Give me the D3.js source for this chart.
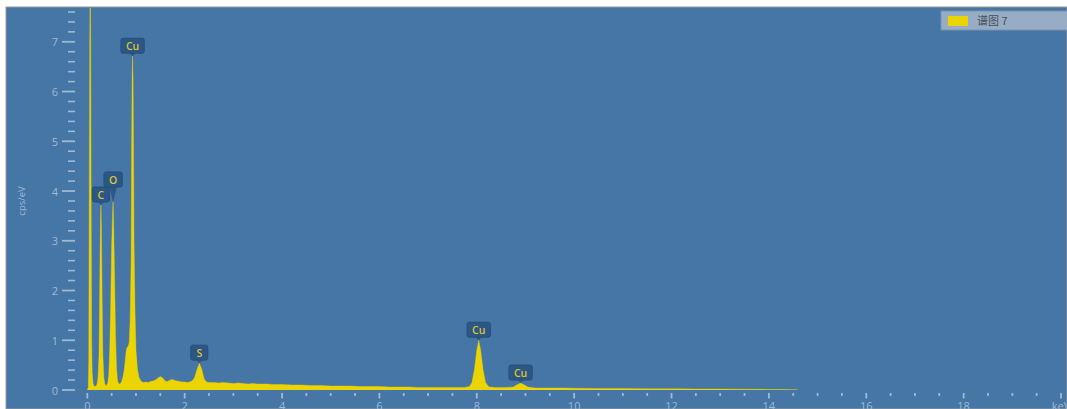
<!DOCTYPE html>
<html>
<head>
<meta charset="utf-8">
<script src="https://cdn.jsdelivr.net/npm/d3@7"></script>
<style>
  html, body { margin: 0; padding: 0; background: #ffffff; overflow: hidden; }
  svg { display: block; }
</style>
</head>
<body>
<svg id="chart" width="1067" height="409"></svg>
<script>
// EDS spectrum: energy (keV) vs intensity (cps/eV)
const spectrumKeV = [
  0.00, 0.02, 0.03, 0.04, 0.05, 0.06, 0.07, 0.08, 0.09, 0.10,
  0.12, 0.14, 0.16, 0.18, 0.20, 0.22, 0.24, 0.25, 0.26, 0.27,
  0.28, 0.29, 0.30, 0.31, 0.32, 0.34, 0.36, 0.38, 0.40, 0.42,
  0.44, 0.46, 0.48, 0.50, 0.52, 0.53, 0.54, 0.56, 0.58, 0.60,
  0.62, 0.64, 0.66, 0.68, 0.70, 0.72, 0.74, 0.76, 0.78, 0.80,
  0.82, 0.84, 0.86, 0.88, 0.90, 0.91, 0.92, 0.93, 0.94, 0.95,
  0.96, 0.98, 1.00, 1.03, 1.06, 1.10, 1.15, 1.20, 1.25, 1.30,
  1.35, 1.40, 1.45, 1.50, 1.55, 1.60, 1.65, 1.70, 1.75, 1.80,
  1.85, 1.90, 1.95, 2.00, 2.05, 2.10, 2.15, 2.20, 2.25, 2.30,
  2.35, 2.40, 2.45, 2.50, 2.60, 2.70, 2.80, 2.90, 3.00, 3.10,
  3.20, 3.30, 3.40, 3.50, 3.60, 3.70, 3.80, 3.90, 4.00, 4.20,
  4.40, 4.60, 4.80, 5.00, 5.20, 5.40, 5.60, 5.80, 6.00, 6.20,
  6.40, 6.60, 6.80, 7.00, 7.20, 7.40, 7.60, 7.75, 7.85, 7.90,
  7.95, 8.00, 8.04, 8.08, 8.13, 8.18, 8.25, 8.40, 8.60, 8.75,
  8.82, 8.90, 8.98, 9.05, 9.20, 9.40, 9.60, 9.80, 10.0, 10.5,
  11.0, 11.5, 12.0, 12.5, 13.0, 13.5, 14.0, 14.3, 14.5, 14.6
];
const spectrumCps = [
  0.00, 0.05, 0.60, 4.00, 7.00, 8.60, 7.00, 3.50, 1.00, 0.35,
  0.12, 0.08, 0.07, 0.08, 0.12, 0.25, 0.70, 1.50, 2.60, 3.40,
  3.72, 3.30, 2.40, 1.40, 0.70, 0.25, 0.12, 0.09, 0.10, 0.14,
  0.30, 0.80, 1.70, 2.90, 3.60, 3.78, 3.40, 2.30, 1.10, 0.45,
  0.20, 0.13, 0.12, 0.13, 0.16, 0.22, 0.30, 0.42, 0.60, 0.80,
  0.86, 0.88, 0.95, 1.40, 2.60, 4.80, 6.30, 6.71, 6.30, 4.90,
  3.00, 1.60, 0.80, 0.42, 0.26, 0.18, 0.15, 0.16, 0.15, 0.17,
  0.18, 0.20, 0.24, 0.27, 0.24, 0.18, 0.17, 0.20, 0.21, 0.19,
  0.18, 0.17, 0.16, 0.16, 0.15, 0.16, 0.18, 0.24, 0.40, 0.54,
  0.42, 0.22, 0.16, 0.15, 0.15, 0.14, 0.15, 0.14, 0.13, 0.14,
  0.13, 0.12, 0.13, 0.12, 0.12, 0.12, 0.11, 0.11, 0.11, 0.10,
  0.10, 0.09, 0.09, 0.08, 0.08, 0.08, 0.07, 0.07, 0.07, 0.06,
  0.06, 0.06, 0.05, 0.05, 0.05, 0.05, 0.05, 0.05, 0.07, 0.15,
  0.40, 0.80, 1.00, 0.80, 0.40, 0.15, 0.06, 0.05, 0.05, 0.06,
  0.10, 0.14, 0.10, 0.06, 0.04, 0.04, 0.04, 0.04, 0.035, 0.03,
  0.03, 0.025, 0.025, 0.02, 0.02, 0.016, 0.012, 0.008, 0.004, 0.00
];

// Peak identifications
const peakNames = ["C", "O", "Cu", "S", "Cu", "Cu"];
const peakKeV = [0.28, 0.53, 0.93, 2.30, 8.04, 8.90];

// Axis ticks
const xMajorTicks = [0, 2, 4, 6, 8, 10, 12, 14, 16, 18, 20];
const xTickLabels = ["0", "2", "4", "6", "8", "10", "12", "14", "16", "18", "keV"];
const yMajorTicks = [0, 1, 2, 3, 4, 5, 6, 7];
const yTickLabels = ["0", "1", "2", "3", "4", "5", "6", "7"];

const seriesName = "谱图 7";

const W = 1067, H = 409;
const svg = d3.select("#chart");

const panel = { x: 6, y: 7 };
const bg = "#4576a5";
const axisColor = "#a0b8d3";
const yellow = "#ecd400";
const font = "Open Sans, DejaVu Sans, sans-serif";

// panel background
svg.append("rect").attr("x", 0).attr("y", 0).attr("width", W).attr("height", H).attr("fill", "#ffffff");
svg.append("rect")
  .attr("x", panel.x).attr("y", panel.y)
  .attr("width", W - panel.x).attr("height", H - panel.y)
  .attr("fill", bg)
  .attr("stroke", "#9a9a9a").attr("stroke-width", 1);

svg.append("defs").append("clipPath").attr("id", "plotClip")
  .append("rect").attr("x", panel.x + 1).attr("y", panel.y + 1)
  .attr("width", W - panel.x).attr("height", 390 - panel.y - 1);

const x = d3.scaleLinear().domain([0, 20]).range([87.3, 1061]);
const y = d3.scaleLinear().domain([0, 7]).range([390, 41.8]);

// spectrum
const pts = spectrumKeV.map((e, i) => [e, spectrumCps[i]]);
const area = d3.area()
  .x(d => x(d[0]))
  .y0(y(0))
  .y1(d => y(d[1]))
  .curve(d3.curveLinear);

svg.append("g").attr("clip-path", "url(#plotClip)")
  .append("path")
  .datum(pts)
  .attr("d", area)
  .attr("fill", yellow)
  .attr("stroke", yellow)
  .attr("stroke-width", 0.4);

// y axis ticks
const gy = svg.append("g");
const yMinor = d3.range(0, 7.61, 0.2).filter(v => Math.abs(v - Math.round(v)) > 1e-6);
gy.selectAll("line.minor").data(yMinor).join("line")
  .attr("x1", 68).attr("x2", 75)
  .attr("y1", d => y(d)).attr("y2", d => y(d))
  .attr("stroke", axisColor).attr("stroke-width", 1.6);
gy.selectAll("line.major").data(yMajorTicks).join("line")
  .attr("x1", 62).attr("x2", 75)
  .attr("y1", d => y(d)).attr("y2", d => y(d))
  .attr("stroke", axisColor).attr("stroke-width", 1.8);
gy.selectAll("text").data(yMajorTicks).join("text")
  .attr("x", 58).attr("y", d => y(d))
  .attr("text-anchor", "end").attr("dominant-baseline", "central")
  .attr("font-family", font)
  .attr("font-size", 11).attr("fill", axisColor)
  .text((d, i) => yTickLabels[i]);

svg.append("text")
  .attr("transform", `translate(25,${y(3.8)}) rotate(-90)`)
  .attr("text-anchor", "middle")
  .attr("font-family", font)
  .attr("font-size", 9.5).attr("fill", axisColor)
  .text("cps/eV");

// x axis ticks
const gx = svg.append("g");
const xMinor = d3.range(0, 20.01, 0.5).filter(v => Math.abs(v / 2 - Math.round(v / 2)) > 1e-6);
gx.selectAll("line.minor").data(xMinor).join("line")
  .attr("x1", d => x(d)).attr("x2", d => x(d))
  .attr("y1", 393).attr("y2", 396)
  .attr("stroke", axisColor).attr("stroke-width", 1.8);
gx.selectAll("line.major").data(xMajorTicks).join("line")
  .attr("x1", d => x(d)).attr("x2", d => x(d))
  .attr("y1", 393).attr("y2", 398.5)
  .attr("stroke", axisColor).attr("stroke-width", 1.8);
gx.selectAll("text").data(xMajorTicks).join("text")
  .attr("x", d => x(d)).attr("y", 410)
  .attr("text-anchor", "middle")
  .attr("font-family", font)
  .attr("font-size", 11).attr("fill", axisColor)
  .text((d, i) => xTickLabels[i]);

// peak markers
function peakValue(e) {
  let best = 0, bd = Infinity;
  spectrumKeV.forEach((k, i) => {
    const d = Math.abs(k - e);
    if (d < bd - 1e-9 || (Math.abs(d - bd) < 1e-9 && spectrumCps[i] > spectrumCps[best])) { bd = d; best = i; }
  });
  return spectrumCps[best];
}

const gp = svg.append("g");
const boxH = 15;
const placed = [];
peakNames.forEach((name, i) => {
  const px = x(peakKeV[i]);
  const tipY = y(peakValue(peakKeV[i]));
  const tmp = gp.append("text")
    .attr("font-family", font).attr("font-weight", 600)
    .attr("font-size", 10.5).text(name);
  const tw = tmp.node().getComputedTextLength();
  tmp.remove();
  const bw = Math.max(17, tw + 10);
  let bx = px - bw / 2;
  let by = tipY - 3 - boxH;
  // lift a marker above any neighbour it would overlap
  placed.forEach(p => {
    const hOverlap = bx < p.x + p.w && bx + bw > p.x;
    const vOverlap = by < p.y + p.h && by + boxH > p.y;
    if (hOverlap && vOverlap) by = p.y - boxH;
  });
  placed.push({ x: bx, y: by, w: bw, h: boxH });

  const g = gp.append("g");
  g.append("path")
    .attr("d", `M${px - 4},${by + boxH - 1} L${px + 4},${by + boxH - 1} L${px},${tipY} Z`)
    .attr("fill", "#2b5582").attr("opacity", 0.92);
  g.append("rect")
    .attr("x", bx).attr("y", by).attr("width", bw).attr("height", boxH)
    .attr("rx", 2).attr("fill", "#2b5582").attr("stroke", "#26507b")
    .attr("opacity", 0.95);
  g.append("text")
    .attr("x", px).attr("y", by + boxH / 2 + 0.5)
    .attr("text-anchor", "middle").attr("dominant-baseline", "central")
    .attr("font-family", font).attr("font-weight", 600)
    .attr("font-size", 10.5).attr("fill", "#d8c436")
    .text(name);
});

// legend
const lg = svg.append("g");
lg.append("rect")
  .attr("x", 941).attr("y", 11).attr("width", 130).attr("height", 19)
  .attr("fill", "#97acc5").attr("stroke", "#7d92ad").attr("stroke-width", 1);
lg.append("rect")
  .attr("x", 948).attr("y", 16).attr("width", 20).attr("height", 10)
  .attr("fill", yellow);
lg.append("text")
  .attr("x", 977).attr("y", 25)
  .attr("font-family", "Noto Sans CJK SC, sans-serif")
  .attr("font-size", 11).attr("fill", "#4a4f57")
  .text(seriesName);
</script>
</body>
</html>
